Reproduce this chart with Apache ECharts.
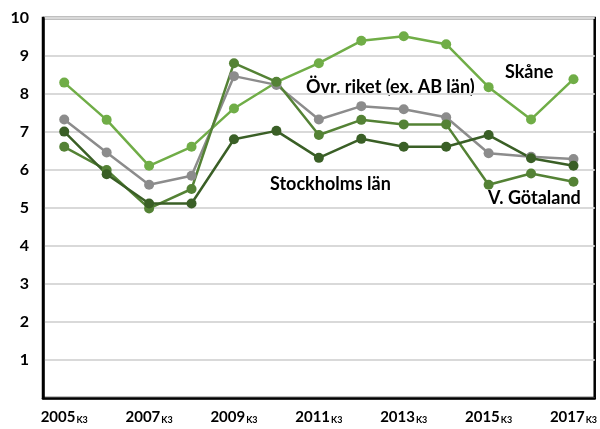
<!DOCTYPE html>
<html><head><meta charset="utf-8">
<script src="https://cdn.jsdelivr.net/npm/echarts@6/dist/echarts.min.js"></script>
<style>html,body{margin:0;padding:0;background:#fff}#c{width:600px;height:429px}</style>
</head><body><div id="c"></div>
<script>
var categories = ['2005','2006','2007','2008','2009','2010','2011','2012','2013','2014','2015','2016','2017'];
var skane = [8.3, 7.32, 6.11, 6.61, 7.62, 8.31, 8.81, 9.4, 9.52, 9.31, 8.18, 7.33, 8.39];
var ovrRiket = [7.33, 6.46, 5.61, 5.85, 8.47, 8.24, 7.33, 7.68, 7.6, 7.39, 6.44, 6.35, 6.29];
var stockholm = [7.01, 5.89, 5.12, 5.12, 6.81, 7.03, 6.32, 6.82, 6.61, 6.61, 6.92, 6.31, 6.11];
var vgotaland = [6.61, 6.0, 4.99, 5.5, 8.81, 8.32, 6.92, 7.32, 7.2, 7.2, 5.61, 5.91, 5.69];
var yTicks = [1,2,3,4,5,6,7,8,9,10];

var FONT = 'Lato';
var chart = echarts.init(document.getElementById('c'));
function mk(name, data, color){
  return {name:name, type:'line', data:data, symbol:'circle', symbolSize:10,
    lineStyle:{color:color, width:2.5}, itemStyle:{color:color}, emphasis:{disabled:true}};
}
chart.setOption({
  animation:false,
  grid:{left:43, right:3, top:18, bottom:31, show:true, borderColor:'#000', borderWidth:2.5, containLabel:false},
  xAxis:{type:'category', data:categories, boundaryGap:true,
    axisLine:{lineStyle:{color:'#000', width:2.5}}, axisTick:{show:false},
    axisLabel:{interval:1, margin:11, fontFamily:FONT,
      formatter:function(v){return '{a|'+v+'}{b|K3}';},
      rich:{a:{fontSize:15, fontWeight:'bold', color:'#000', fontFamily:FONT},
            b:{fontSize:9, fontWeight:'bold', color:'#000', fontFamily:FONT, padding:[7,0,0,1], verticalAlign:'bottom'}}}},
  yAxis:{type:'value', min:0, max:10, interval:1,
    axisLine:{show:true, lineStyle:{color:'#000', width:2.5}}, axisTick:{show:false},
    splitLine:{lineStyle:{color:'#d9d9d9', width:1.8}},
    axisLabel:{margin:14, fontSize:16, fontWeight:'bold', color:'#000', fontFamily:FONT,
      formatter:function(v){return yTicks.indexOf(v)>=0 ? String(v) : '';}}},
  series:[
    mk('Skåne', skane, '#70AD47'),
    mk('Övr. riket (ex. AB län)', ovrRiket, '#8C8C8C'),
    mk('V. Götaland', vgotaland, '#548235'),
    mk('Stockholms län', stockholm, '#3A5F26')
  ],
  graphic:[
    {type:'text', left:505, top:63, style:{text:'Skåne', font:'bold 18px '+FONT, fill:'#000'}},
    {type:'text', left:306, top:78, style:{text:'Övr. riket (ex. AB län)', font:'bold 18px '+FONT, fill:'#000'}},
    {type:'text', left:270, top:175, style:{text:'Stockholms län', font:'bold 18px '+FONT, fill:'#000'}},
    {type:'text', left:488, top:189, style:{text:'V. Götaland', font:'bold 18px '+FONT, fill:'#000'}}
  ]
});
</script></body></html>
